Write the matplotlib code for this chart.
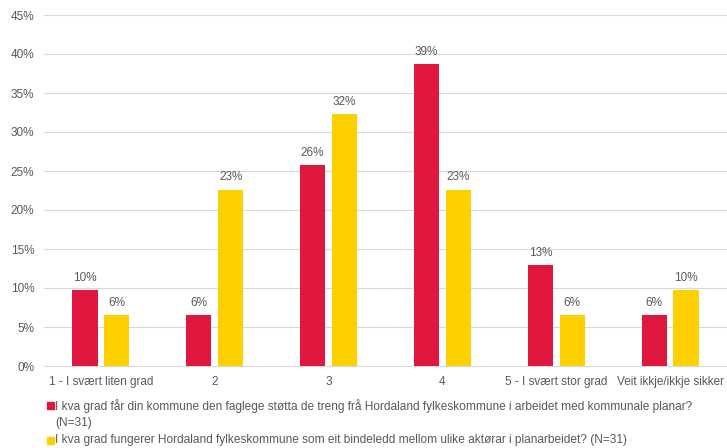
import numpy as np
import matplotlib.pyplot as plt
from matplotlib.patches import Rectangle

plt.rcParams['font.family'] = ['Liberation Sans', 'DejaVu Sans']

categories = ['1 - I svært liten grad', '2', '3', '4', '5 - I svært stor grad', 'Veit ikkje/ikkje sikker']
support = [9.7, 6.5, 25.8, 38.7, 12.9, 6.5]
link = [6.5, 22.6, 32.3, 22.6, 6.5, 9.7]
series_names = [
    'I kva grad får din kommune den faglege støtta de treng frå Hordaland fylkeskommune i arbeidet med kommunale planar?\n(N=31)',
    'I kva grad fungerer Hordaland fylkeskommune som eit bindeledd mellom ulike aktørar i planarbeidet? (N=31)',
]
red = '#E0173F'
yellow = '#FFD000'
grey = '#595959'
fs = 8.5

fig = plt.figure(figsize=(7.27, 4.48), dpi=100)
ax = fig.add_axes([44 / 727, 1 - 366 / 448, 683 / 727, 351 / 448])

x = np.arange(len(categories))
w = 0.22
off = 0.14
b1 = ax.bar(x - off, support, w, color=red, zorder=3)
b2 = ax.bar(x + off, link, w, color=yellow, zorder=3)

for bars, vals in ((b1, support), (b2, link)):
    for b, v in zip(bars, vals):
        ax.text(b.get_x() + b.get_width() / 2, v + 0.8, f'{v:.0f}%',
                ha='center', va='bottom', fontsize=fs, color=grey)

ax.set_xlim(-0.5, len(categories) - 0.5)
ax.set_ylim(0, 45)
ax.set_yticks(range(0, 46, 5))
ax.set_yticklabels([f'{t}%' for t in range(0, 46, 5)])
ax.set_xticks(x)
ax.set_xticklabels(categories)
ax.tick_params(axis='both', length=0, labelsize=fs, colors=grey)
ax.tick_params(axis='x', pad=7)
ax.tick_params(axis='y', pad=7)
ax.grid(axis='y', color='#D9D9D9', linewidth=0.8, zorder=0)
for s in ('top', 'right', 'left'):
    ax.spines[s].set_visible(False)
ax.spines['bottom'].set_color('#D9D9D9')
ax.spines['bottom'].set_linewidth(0.8)

# legend rows under the chart
for name, col, ypix in zip(series_names, [red, yellow], [405, 440]):
    fig.patches.append(Rectangle((47 / 727, 1 - (ypix + 4) / 448), 7 / 727, 7 / 448,
                                 transform=fig.transFigure, color=col, figure=fig))
    fig.text(55 / 727, 1 - (ypix - 6) / 448, name, fontsize=8.6, color=grey,
             va='top', ha='left', linespacing=1.42)

fig.savefig('out.png', dpi=100)
